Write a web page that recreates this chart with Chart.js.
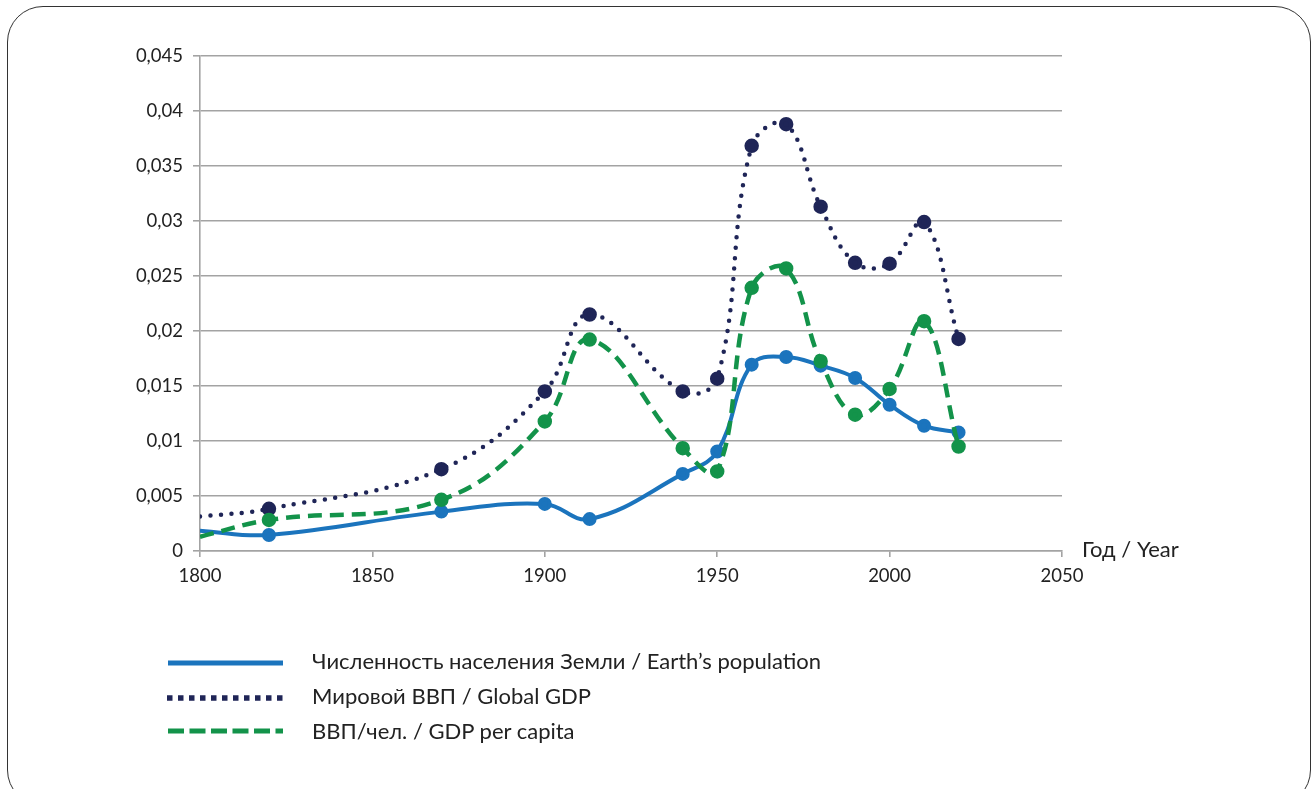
<!DOCTYPE html>
<html>
<head>
<meta charset="utf-8">
<script src="https://cdn.jsdelivr.net/npm/chart.js@4"></script>
<style>
  body { margin: 0; background: #fff; font-family: Lato, "Open Sans", sans-serif; color: #222; }
  #wrap { position: relative; width: 1316px; height: 789px; overflow: hidden; }
  #frame { position: absolute; left: 7px; top: 6px; width: 1304px; height: 800px;
           border: 1.6px solid #333; border-radius: 36px; box-sizing: border-box; }
  #chart { position: absolute; left: 0; top: 0; }
  .lbl { position: absolute; font-size: 22px; white-space: nowrap; line-height: 1; }
  .leg { position: absolute; left: 166px; }
</style>
</head>
<body>
<div id="wrap">
  <div id="frame"></div>
  <canvas id="chart" width="1316" height="789"></canvas>
  <div class="lbl" style="left:1082px; top:538px;">Год / Year</div>

  <svg class="leg" style="top:653px" width="122" height="20"><line x1="2" y1="10" x2="117" y2="10" stroke="#1b74bd" stroke-width="5"/></svg>
  <svg class="leg" style="top:688px" width="122" height="20"><line x1="1" y1="10" x2="117" y2="10" stroke="#1f2557" stroke-width="5.5" stroke-dasharray="5.5 5.5"/></svg>
  <svg class="leg" style="top:721px" width="122" height="20"><line x1="2" y1="10" x2="117" y2="10" stroke="#13934a" stroke-width="5" stroke-dasharray="16 5.5"/></svg>
  <div class="lbl" style="left:312px; top:650px;">Численность населения Земли / Earth’s population</div>
  <div class="lbl" style="left:312px; top:685px;">Мировой ВВП / Global GDP</div>
  <div class="lbl" style="left:312px; top:720px;">ВВП/чел. / GDP per capita</div>
</div>
<script>
const years = [1800, 1820, 1870, 1900, 1913, 1940, 1950, 1960, 1970, 1980, 1990, 2000, 2010, 2020];
const population = [0.00185, 0.00146, 0.00358, 0.00428, 0.0029, 0.00701, 0.00905, 0.01694, 0.01764, 0.01685, 0.01573, 0.0133, 0.01139, 0.01078];
const globalGdp = [0.00313, 0.00383, 0.00744, 0.01451, 0.0215, 0.01451, 0.01567, 0.03683, 0.0388, 0.0313, 0.0262, 0.02612, 0.0299, 0.01928];
const gdpPerCapita = [0.0013, 0.00282, 0.00465, 0.01178, 0.01922, 0.00935, 0.00723, 0.02393, 0.02569, 0.01725, 0.01239, 0.01473, 0.02089, 0.0095];
const seriesNames = ["Численность населения Земли / Earth’s population", "Мировой ВВП / Global GDP", "ВВП/чел. / GDP per capita"];

function pts(vals) {
    return years.map((y, i) => ({ x: y, y: vals[i] }));
}
// first point (1800) has no marker
const radii = years.map((y, i) => i === 0 ? 0 : 5);

const gridColor = '#a3a3a3';

new Chart(document.getElementById('chart'), {
    type: 'line',
    data: {
        datasets: [
            {
                label: seriesNames[2],
                data: pts(gdpPerCapita),
                borderColor: '#13934a',
                backgroundColor: '#13934a',
                borderWidth: 4.5,
                borderDash: [14, 8],
                pointRadius: radii,
                tension: 0.4
            },
            {
                label: seriesNames[1],
                data: pts(globalGdp),
                borderColor: '#1f2557',
                backgroundColor: '#1f2557',
                borderWidth: 4.5,
                borderDash: [0, 10.5],
                borderCapStyle: 'round',
                pointRadius: radii,
                tension: 0.4
            },
            {
                label: seriesNames[0],
                data: pts(population),
                borderColor: '#1b74bd',
                backgroundColor: '#1b74bd',
                borderWidth: 4,
                pointRadius: radii,
                tension: 0.4
            }
        ]
    },
    options: {
        responsive: false,
        animation: false,
        layout: { padding: { left: 100, right: 254, top: 56, bottom: 198 } },
        plugins: { legend: { display: false }, tooltip: { enabled: false } },
        scales: {
            x: {
                type: 'linear',
                min: 1800, max: 2050,
                afterFit: s => { s.height = 40; },
                ticks: {
                    stepSize: 50,
                    padding: 8,
                    color: '#222',
                    font: { family: 'Lato', size: 18.5 },
                    maxRotation: 0,
                    callback: v => String(v)
                },
                grid: { drawOnChartArea: false, drawTicks: true, tickLength: 6, color: gridColor, lineWidth: 1.6 },
                border: { display: true, color: gridColor, width: 1.6 }
            },
            y: {
                min: 0, max: 0.045,
                afterFit: s => { s.width = 100; },
                ticks: {
                    stepSize: 0.005,
                    padding: 10,
                    color: '#222',
                    font: { family: 'Lato', size: 18.5 },
                    callback: v => String(Math.round(v * 1000) / 1000).replace('.', ',')
                },
                grid: { drawTicks: true, tickLength: 7, color: gridColor, lineWidth: 1.6 },
                border: { display: true, color: gridColor, width: 1.6 }
            }
        }
    }
});
</script>
</body>
</html>
